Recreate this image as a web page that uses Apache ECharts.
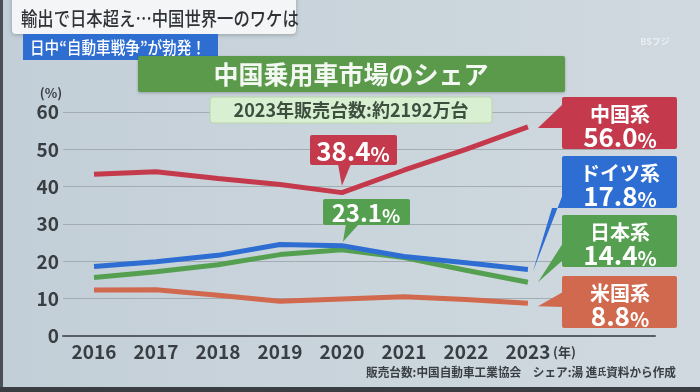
<!DOCTYPE html>
<html><head><meta charset="utf-8">
<script src="https://cdn.jsdelivr.net/npm/echarts@6/dist/echarts.min.js"></script>
<style>html,body{margin:0;padding:0;background:#c9d4dc}#c{width:700px;height:392px}</style>
</head><body><div id="c"></div>
<script>
// ---- data ----
const years = [2016, 2017, 2018, 2019, 2020, 2021, 2022, 2023];
const yTicks = [0, 10, 20, 30, 40, 50, 60];
const china   = [43.3, 44.0, 42.2, 40.6, 38.4, 44.4, 50.0, 56.0];
const germany = [18.6, 19.9, 21.6, 24.5, 24.2, 21.3, 19.6, 17.8];
const japan   = [15.7, 17.2, 19.1, 21.8, 23.1, 21.0, 17.6, 14.4];
const usa     = [12.3, 12.4, 10.9, 9.3, 9.9, 10.5, 9.8, 8.8];
const seriesNames = ['中国系', 'ドイツ系', '日本系', '米国系'];
const headerTitle = '輸出で日本超え…中国世界一のワケは';
const headerTag = '日中“自動車戦争”が勃発！';
const chartTitle = '中国乗用車市場のシェア';
const subTitle = '2023年販売台数:約2192万台';
const sourceNote = '販売台数:中国自動車工業協会　シェア:湯 進{s|氏}資料から作成';
const yUnit = '(%)';
const xUnit = '(年)';

const FONT = '"Noto Sans CJK JP", "Noto Sans", sans-serif';
const C = { china: '#c43a4c', germany: '#2e6ed3', japan: '#55a050', usa: '#d1694e' };

const chart = echarts.init(document.getElementById('c'), null, { renderer: 'canvas' });
const toPairs = arr => arr.map((v, i) => [years[i], v]);
const lineSeries = [
  { name: seriesNames[3], data: usa, color: C.usa },
  { name: seriesNames[2], data: japan, color: C.japan },
  { name: seriesNames[1], data: germany, color: C.germany },
  { name: seriesNames[0], data: china, color: C.china }
];

chart.setOption({
  animation: false,
  backgroundColor: { type: 'linear', x: 0, y: 0, x2: 1, y2: 0,
    colorStops: [{ offset: 0, color: '#c3cfd8' }, { offset: 1, color: '#d0d9df' }] },
  grid: { left: 63, right: 45, top: 112, bottom: 56 },
  xAxis: {
    type: 'value', min: 2015.5, max: 2025.05, interval: 0.5,
    axisLine: { lineStyle: { color: '#585e63', width: 2 } },
    axisTick: { show: false }, splitLine: { show: false },
    axisLabel: {
      formatter: v => (years.indexOf(v) >= 0 ? String(v) : ''),
      fontSize: 19, color: '#393e43', fontFamily: FONT, fontWeight: 'bold', margin: 6
    }
  },
  yAxis: {
    type: 'value', min: yTicks[0], max: yTicks[yTicks.length - 1], interval: 10,
    axisLine: { show: false }, axisTick: { show: false },
    splitLine: { lineStyle: { color: '#a3acb3', width: 1 } },
    axisLabel: { fontSize: 19, color: '#393e43', fontFamily: FONT, fontWeight: 'bold', margin: 4 }
  },
  series: lineSeries.map((s, k) => ({
    type: 'line', name: s.name, data: toPairs(s.data), symbol: 'none', z: 2 + k,
    lineStyle: { color: s.color, width: 5 }
  }))
});

const px = (arr, i) => chart.convertToPixel({ gridIndex: 0 }, [years[i], arr[i]]);
const last = years.length - 1;
const g = [];

// screen edges
g.push({ type: 'rect', shape: { x: 0, y: 0, width: 3, height: 392 }, style: { fill: '#4a5056' }, z: 1 });
g.push({ type: 'rect', shape: { x: 0, y: 387, width: 700, height: 5 }, style: { fill: '#3a3d41' }, z: 1 });

// header
g.push({ type: 'rect', shape: { x: 12, y: -6, width: 284, height: 40, r: 4 },
  style: { fill: '#f3f5f6', shadowBlur: 4, shadowColor: 'rgba(0,0,0,0.25)', shadowOffsetY: 1 }, z: 10 });
g.push({ type: 'text', x: 21, y: 19, scaleX: 0.86, z: 11,
  style: { text: headerTitle, fill: '#2f3337', font: '500 19px ' + FONT, align: 'left', verticalAlign: 'middle' } });
g.push({ type: 'rect', shape: { x: 23, y: 34, width: 195, height: 26 }, style: { fill: '#2f6ed1' }, z: 10 });
g.push({ type: 'text', x: 30, y: 47.5, scaleX: 0.86, z: 11,
  style: { text: headerTag, fill: '#ffffff', font: '500 17px ' + FONT, align: 'left', verticalAlign: 'middle' } });
g.push({ type: 'text', x: 655, y: 42, z: 5,
  style: { text: 'BSフジ', fill: '#e9eef2', font: 'bold 9px ' + FONT, align: 'center', verticalAlign: 'middle' } });

// chart title
g.push({ type: 'rect', shape: { x: 138, y: 56, width: 427, height: 36, r: 2 },
  style: { fill: '#5b994b', shadowBlur: 3, shadowColor: 'rgba(0,0,0,0.25)', shadowOffsetY: 1 }, z: 10 });
g.push({ type: 'text', x: 351, y: 74, z: 11,
  style: { text: chartTitle, fill: '#f4f8f2', font: 'bold 25px ' + FONT, align: 'center', verticalAlign: 'middle' } });
g.push({ type: 'rect', shape: { x: 210, y: 97, width: 282, height: 26, r: 3 },
  style: { fill: '#d9efd1', stroke: '#b7d6a9', lineWidth: 1 }, z: 10 });
g.push({ type: 'text', x: 351, y: 110.5, z: 11,
  style: { text: subTitle, fill: '#3d5040', font: 'bold 18px ' + FONT, align: 'center', verticalAlign: 'middle' } });

// units & source
g.push({ type: 'text', x: 51, y: 93, z: 5,
  style: { text: yUnit, fill: '#393e43', font: 'bold 13px ' + FONT, align: 'center', verticalAlign: 'middle' } });
g.push({ type: 'text', x: 553, y: 352, z: 5,
  style: { text: xUnit, fill: '#393e43', font: 'bold 13px ' + FONT, align: 'left', verticalAlign: 'middle' } });
g.push({ type: 'text', x: 676, y: 372, scaleX: 0.97, z: 5,
  style: { text: sourceNote, fill: '#3a3f44', font: 'bold 12px ' + FONT, align: 'right', verticalAlign: 'middle',
    rich: { s: { fontSize: 9, fontWeight: 'bold', fontFamily: FONT, fill: '#3a3f44' } } } });

// callouts at 2020
const iPeak = years.indexOf(2020);
function valueText(v, big, small) {
  return {
    text: '{v|' + v.toFixed(1) + '}{p|%}',
    rich: {
      v: { fontSize: big, fontWeight: 'bold', fontFamily: FONT, fill: '#ffffff', verticalAlign: 'bottom', lineHeight: big + 2 },
      p: { fontSize: small, fontWeight: 'bold', fontFamily: FONT, fill: '#ffffff', verticalAlign: 'bottom', lineHeight: big + 2 }
    }
  };
}
{
  const p = px(china, iPeak);
  g.push({ type: 'rect', shape: { x: 310, y: 135, width: 87, height: 30, r: 2 }, style: { fill: C.china }, z: 20 });
  g.push({ type: 'polygon', shape: { points: [[p[0] - 4, 164], [p[0] + 9, 164], [p[0], p[1] - 7]] }, style: { fill: C.china }, z: 20 });
  g.push({ type: 'text', x: 353, y: 150, z: 21, style: Object.assign({ align: 'center', verticalAlign: 'middle' }, valueText(china[iPeak], 26, 20)) });
}
{
  const p = px(japan, iPeak);
  g.push({ type: 'rect', shape: { x: 323, y: 199, width: 87, height: 26, r: 2 }, style: { fill: C.japan }, z: 20 });
  g.push({ type: 'polygon', shape: { points: [[p[0] + 4, 224], [p[0] + 17, 224], [p[0] + 1, p[1] - 8]] }, style: { fill: C.japan }, z: 20 });
  g.push({ type: 'text', x: 366, y: 212, z: 21, style: Object.assign({ align: 'center', verticalAlign: 'middle' }, valueText(japan[iPeak], 24, 19)) });
}

// right side boxes
const boxes = [
  { name: seriesNames[0], data: china, color: C.china, top: 97,
    ptr: e => [[563, 104], [563, 128], [e[0] + 10, e[1] + 1]] },
  { name: seriesNames[1], data: germany, color: C.germany, top: 156,
    ptr: e => [[563, 194], [563, 208], [552, 208], [e[0] + 5, e[1] + 2]] },
  { name: seriesNames[2], data: japan, color: C.japan, top: 215,
    ptr: e => [[563, 243], [563, 260], [e[0] + 10, e[1]]] },
  { name: seriesNames[3], data: usa, color: C.usa, top: 276,
    ptr: e => [[563, 292], [563, 307], [e[0] + 10, e[1] + 3]] }
];
boxes.forEach(b => {
  const e = px(b.data, last);
  g.push({ type: 'rect', shape: { x: 562, y: b.top, width: 115, height: 52, r: 2 }, style: { fill: b.color }, z: 20 });
  g.push({ type: 'polygon', shape: { points: b.ptr(e) }, style: { fill: b.color }, z: 20 });
  g.push({ type: 'text', x: 620, y: b.top + 17, z: 21,
    style: { text: b.name, fill: '#ffffff', font: 'bold 20px ' + FONT, align: 'center', verticalAlign: 'middle' } });
  g.push({ type: 'text', x: 620, y: b.top + 39, z: 21,
    style: Object.assign({ align: 'center', verticalAlign: 'middle' }, valueText(b.data[last], 26, 20)) });
});

chart.setOption({ graphic: { elements: g } });
</script>
</body></html>
